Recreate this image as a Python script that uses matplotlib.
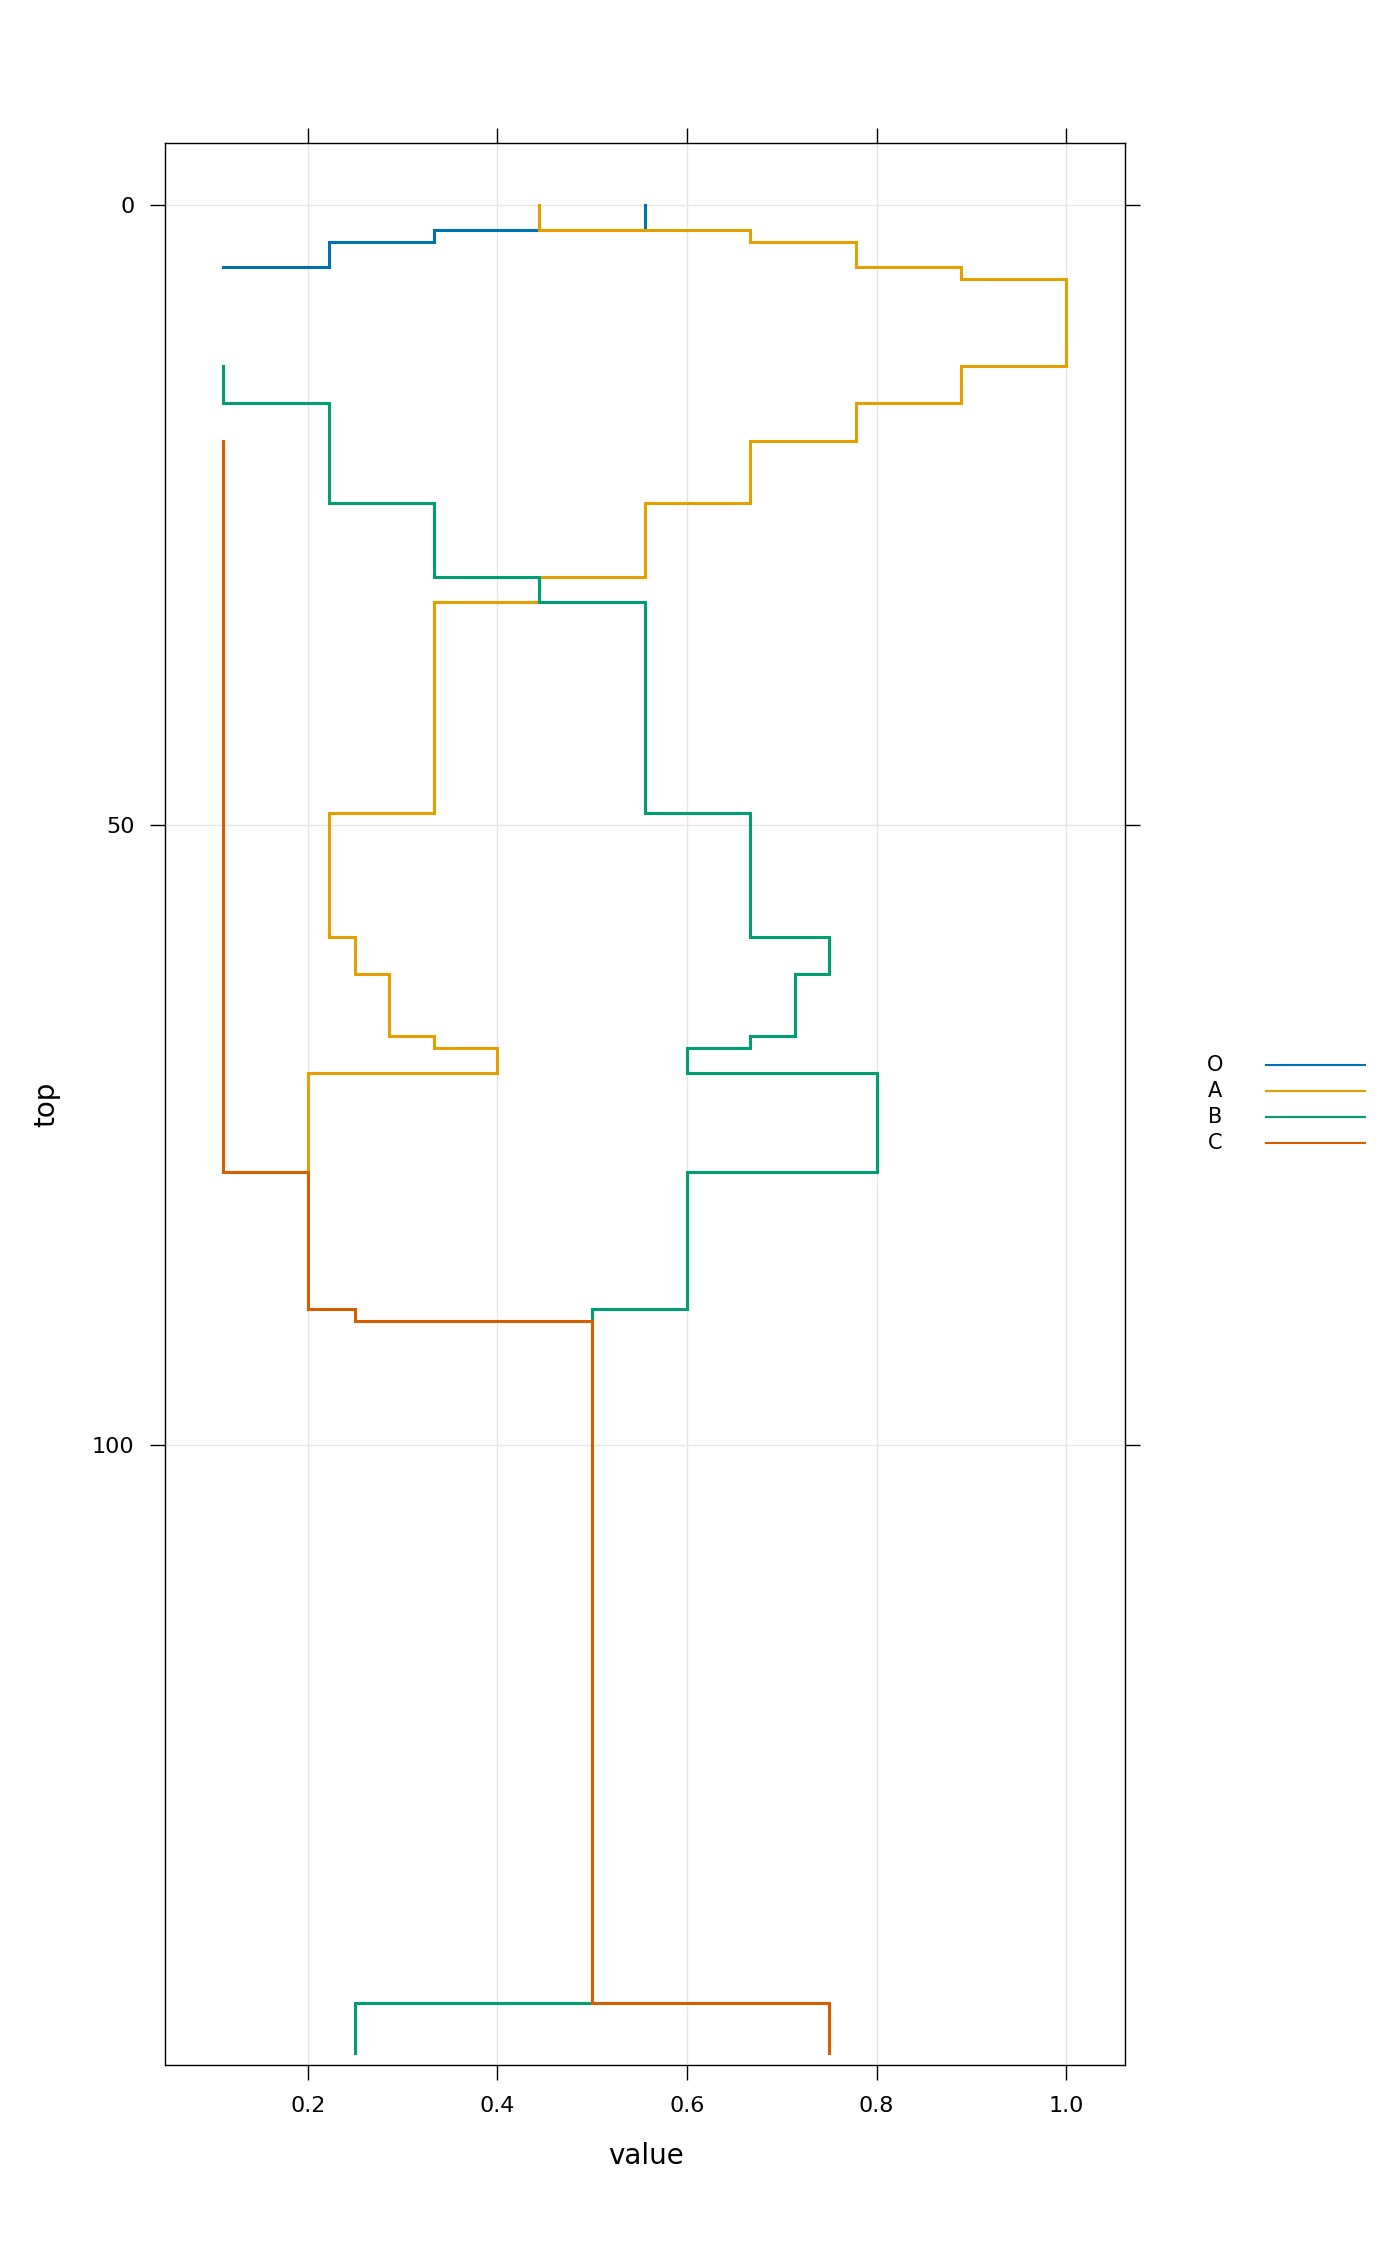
import numpy as np
import matplotlib
matplotlib.use("Agg")
import matplotlib.pyplot as plt
from matplotlib.lines import Line2D

# profile data: depth (top) where each value starts
series_names = ["O", "A", "B", "C"]
series_colors = ["#0072B2", "#E69F00", "#009E73", "#D55E00"]

O_top = [0, 2, 3, 5]
O_value = [0.556, 0.333, 0.222, 0.111]

A_top = [0, 2, 3, 5, 6, 13, 16, 19, 24, 30, 32, 49, 59, 62, 67, 68, 70, 78]
A_value = [0.444, 0.667, 0.778, 0.889, 1.0, 0.889, 0.778, 0.667, 0.556, 0.444,
           0.333, 0.222, 0.25, 0.286, 0.333, 0.4, 0.2, 0.2]

B_top = [13, 16, 24, 30, 32, 49, 59, 62, 67, 68, 70, 78, 89, 145, 149]
B_value = [0.111, 0.222, 0.333, 0.444, 0.556, 0.667, 0.75, 0.714, 0.667, 0.6,
           0.8, 0.6, 0.5, 0.25, 0.25]

C_top = [19, 78, 89, 90, 145, 149]
C_value = [0.111, 0.2, 0.25, 0.5, 0.75, 0.75]

x_ticks = [0.2, 0.4, 0.6, 0.8, 1.0]
y_ticks = [0, 50, 100]

tops = [O_top, A_top, B_top, C_top]
values = [O_value, A_value, B_value, C_value]

fig = plt.figure(figsize=(14, 22.66), dpi=100)
ax = fig.add_axes([165/1400, 1 - 2065/2266, 960/1400, 1922/2266])

for v in x_ticks:
    ax.axvline(v, color="#e6e6e6", lw=1.0, zorder=0)
for t in y_ticks:
    ax.axhline(t, color="#e6e6e6", lw=1.0, zorder=0)

for name, col, tp, val in zip(series_names, series_colors, tops, values):
    ax.plot(val, tp, drawstyle="steps-pre", color=col, lw=2.2,
            solid_joinstyle="miter")

ax.set_xlim(0.0495, 1.062)
ax.set_ylim(150, -5)
ax.set_xticks(x_ticks)
ax.set_xticklabels(["0.2", "0.4", "0.6", "0.8", "1.0"])
ax.set_yticks(y_ticks)
ax.tick_params(direction="out", length=11, width=1.0, labelsize=16, pad=11,
               top=True, right=True, color="black")
for s in ax.spines.values():
    s.set_linewidth(1.0)

fig.text(646/1400, 1 - 2156/2266, "value", fontsize=20, ha="center", va="center")
fig.text(46/1400, 1 - 1104/2266, "top", fontsize=20, ha="center", va="center",
         rotation=90)

# key on the right
for i, (name, col) in enumerate(zip(series_names, series_colors)):
    yy = 1 - (1065 + 26 * i) / 2266
    fig.text(1215/1400, yy, name, fontsize=15, ha="center", va="center")
    fig.add_artist(Line2D([1266/1400, 1365/1400], [yy, yy], color=col, lw=1.5,
                          transform=fig.transFigure))

fig.savefig("out.png", dpi=100)
